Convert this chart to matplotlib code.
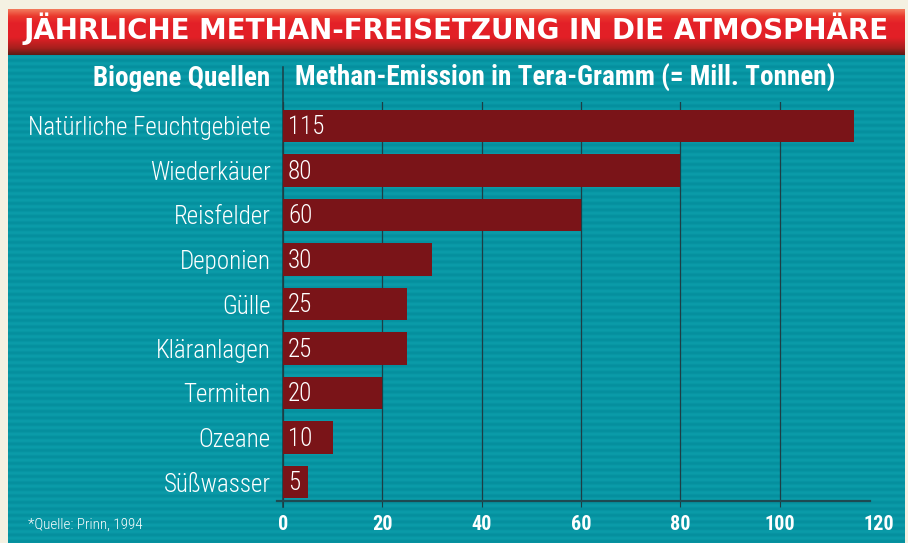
import matplotlib
matplotlib.use("Agg")
import matplotlib.pyplot as plt
import numpy as np
from matplotlib.colors import LinearSegmentedColormap

# ---- data ----
categories = ["Natürliche Feuchtgebiete", "Wiederkäuer", "Reisfelder", "Deponien",
              "Gülle", "Kläranlagen", "Termiten", "Ozeane", "Süßwasser"]
values = [115, 80, 60, 30, 25, 25, 20, 10, 5]
xticks = [0, 20, 40, 60, 80, 100, 120]
title = "JÄHRLICHE METHAN-FREISETZUNG IN DIE ATMOSPHÄRE"
header_left = "Biogene Quellen"
header_right = "Methan-Emission in Tera-Gramm (= Mill. Tonnen)"
source = "*Quelle: Prinn, 1994"

W, H = 908, 543
COND = ["Roboto Condensed", "DejaVu Sans"]
TEAL_DARK = "#1d3d44"
BAR = "#7a1418"

fig = plt.figure(figsize=(W / 100, H / 100), dpi=100)
fig.patch.set_facecolor("#f4f1e2")

def fx(px):
    return px / W

def fy(py):
    return 1 - py / H

# teal striped panel
bg = fig.add_axes([fx(8), 0, fx(905) - fx(8), fy(55)])
bg.set_axis_off()
rows = np.arange(488)
stripe = 0.5 + 0.5 * np.sin(rows / 6.5 * 2 * np.pi)
teal_cmap = LinearSegmentedColormap.from_list("teal", ["#058f9e", "#0b9ca9"])
bg.imshow(stripe[:, None], aspect="auto", cmap=teal_cmap, extent=[0, 1, 0, 1],
          interpolation="bilinear")

# red gradient banner
ban = fig.add_axes([fx(8), fy(55), fx(905) - fx(8), fy(9) - fy(55)])
ban.set_axis_off()
red_cmap = LinearSegmentedColormap.from_list(
    "red", [(0.0, "#f27a5c"), (0.15, "#ea3a2e"), (0.3, "#e42128"),
            (0.62, "#e21f26"), (0.85, "#a8201d"), (1.0, "#5e1a14")])
ban.imshow(np.linspace(0, 1, 100)[:, None], aspect="auto", cmap=red_cmap,
           extent=[0, 1, 0, 1])
ban.text(0.5, 0.35, title, transform=ban.transAxes, ha="center", va="baseline",
         color="white", fontsize=20, fontweight="bold", family="DejaVu Sans")

# main axes
scale = 4.965  # px per unit
x0px = 283
xmin, xmax = -1.5, 120
left_px = x0px + xmin * scale
right_px = x0px + xmax * scale
top_px, bot_px = 102, 501
ax = fig.add_axes([fx(left_px), fy(bot_px), (right_px - left_px) / W, (bot_px - top_px) / H])
ax.patch.set_alpha(0)
ax.set_xlim(xmin, xmax)
ypos = np.arange(len(categories))
pitch = 44.5
ax.set_ylim((bot_px - 126) / pitch, (top_px - 126) / pitch)

ax.barh(ypos, values, height=0.72, color=BAR, zorder=3)
for y, v in zip(ypos, values):
    ax.annotate(str(v), (0, y), xytext=(3.6, -1), textcoords="offset points",
                ha="left", va="center", color="white", fontsize=18,
                family=COND, fontweight="light", zorder=4)

ax.set_yticks(ypos)
ax.set_yticklabels(categories, family=COND, fontweight="light", fontsize=18, color="white")
ax.tick_params(axis="y", length=0, pad=3.6)

ax.set_xticks(xticks)
ax.set_xticklabels([str(t) for t in xticks], family=COND, fontweight="bold",
                   fontsize=14.5, color="white")
ax.tick_params(axis="x", direction="out", length=4.3, width=0.8, color=TEAL_DARK, pad=6)
ax.xaxis.grid(True, color=TEAL_DARK, lw=0.9, zorder=1)
ax.set_axisbelow(True)
last = ax.xaxis.get_major_ticks()[-1]
last.tick1line.set_visible(False)
last.gridline.set_visible(False)

for s in ["top", "right", "left"]:
    ax.spines[s].set_visible(False)
ax.spines["bottom"].set_color("#1d4a52")
ax.spines["bottom"].set_linewidth(1.6)
ax.spines["bottom"].set_bounds(-1.3, 118.3)

ax.axvline(0, ymin=-6 / (bot_px - top_px), ymax=(bot_px - 67) / (bot_px - top_px),
           color=TEAL_DARK, lw=1.1, clip_on=False, zorder=2)

# headers and source
fig.text(fx(270), fy(78), header_left, ha="right", va="center", color="white",
         fontsize=19.5, fontweight="bold", family=COND)
fig.text(fx(295), fy(78), header_right, ha="left", va="center", color="white",
         fontsize=19.5, fontweight="bold", family=COND)
fig.text(fx(28), fy(525), source, ha="left", va="center", color="white",
         fontsize=10.8, fontweight="light", family=COND)

fig.savefig("out.png", dpi=100, facecolor=fig.get_facecolor())
